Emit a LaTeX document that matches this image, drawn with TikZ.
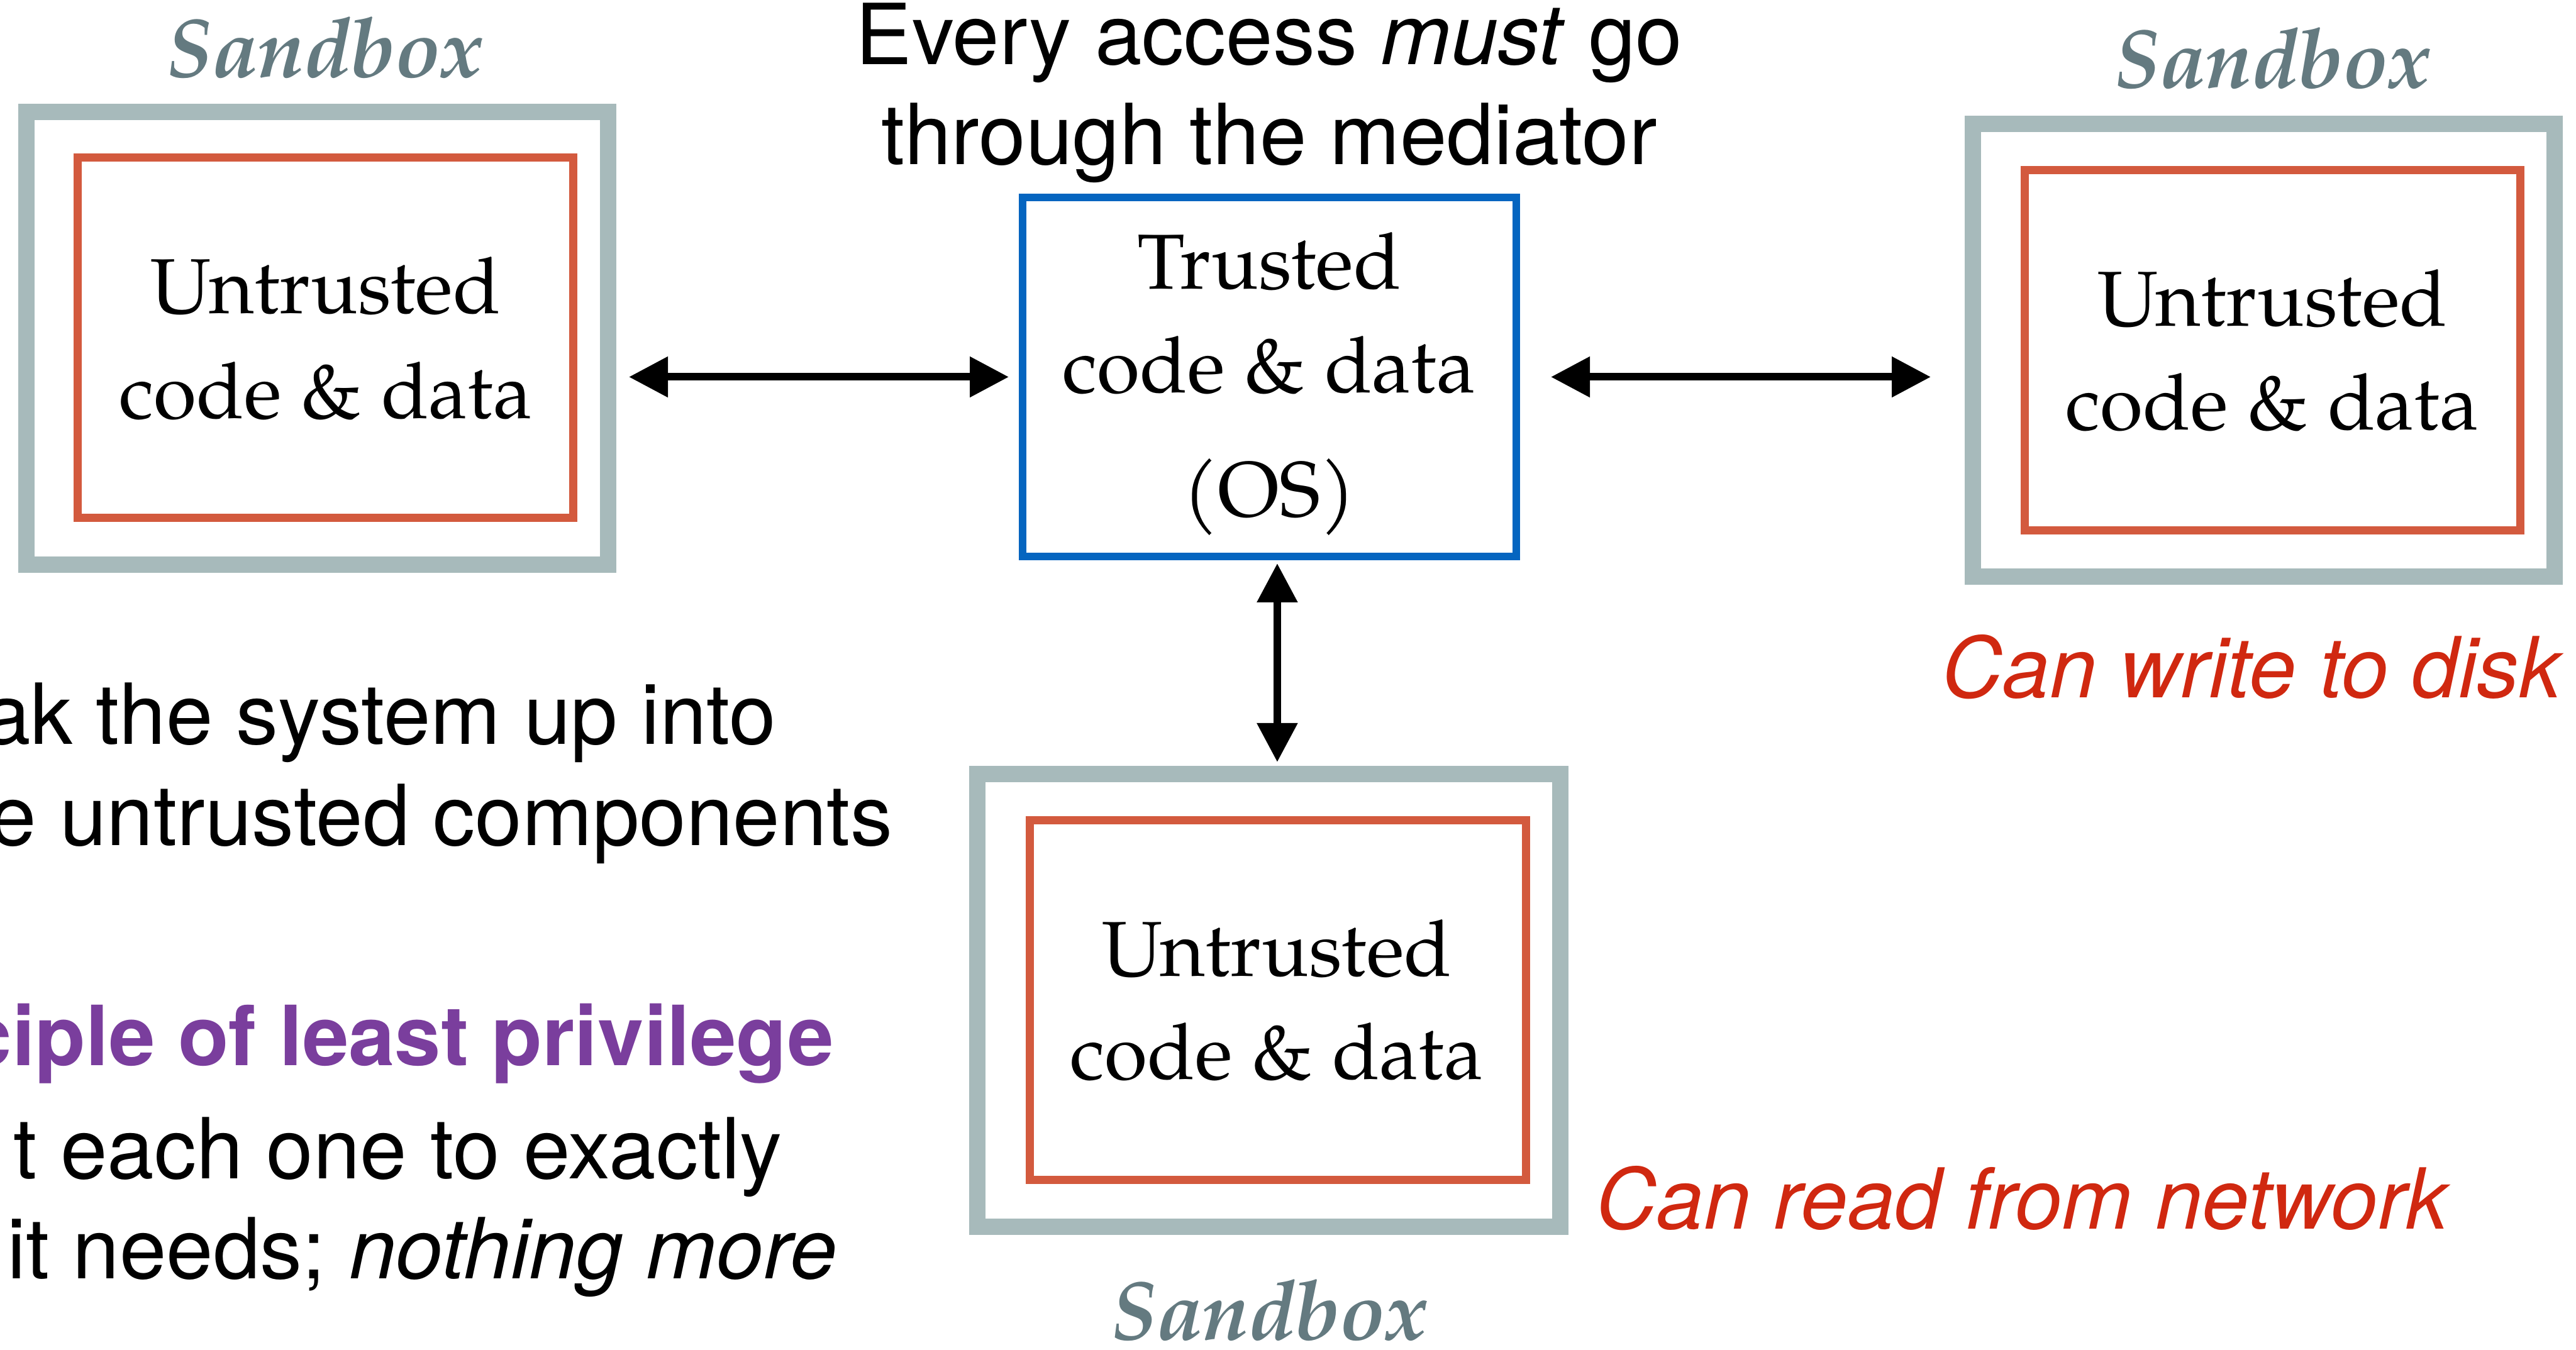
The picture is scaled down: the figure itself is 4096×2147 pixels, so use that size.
\documentclass[tikz,border=0pt]{standalone}
\usepackage{fontspec}
\usetikzlibrary{arrows.meta}
\setmainfont{TeX Gyre Heros}
\newfontfamily\pal{texgyrepagella}[Extension=.otf,UprightFont=*-regular,ItalicFont=*-italic,BoldFont=*-bold,BoldItalicFont=*-bolditalic]
\definecolor{sbgray}{RGB}{167,186,187}
\definecolor{uorange}{RGB}{211,90,62}
\definecolor{tblue}{RGB}{5,101,192}
\definecolor{sbtext}{RGB}{100,122,128}
\definecolor{cred}{RGB}{208,40,16}
\definecolor{cpurple}{RGB}{122,62,157}
\tikzset{
  sbox/.style={draw=sbgray, line width=6.5pt, minimum width=231.25pt, minimum height=180pt, inner sep=0pt},
  ubox/.style={draw=uorange, line width=3.25pt, minimum width=197pt, minimum height=143.25pt, inner sep=0pt},
  tbox/.style={draw=tblue, line width=3pt, minimum width=196.25pt, minimum height=142.75pt, inner sep=0pt},
  serif/.style={font=\pal\fontsize{31}{37}\selectfont, anchor=base, inner sep=0pt},
  sblabel/.style={font=\pal\bfseries\itshape\fontsize{33}{40}\selectfont, text=sbtext, anchor=base, inner sep=0pt},
  sans/.style={font=\fontsize{33.5}{40}\selectfont, inner sep=0pt},
  note/.style={sans, text=cred, anchor=base west, font=\fontsize{33.5}{40}\selectfont\itshape},
  arr/.style={{Triangle[length=15.5pt,width=15.5pt]}-{Triangle[length=15.5pt,width=15.5pt]}, line width=3pt}
}
\begin{document}
\begin{tikzpicture}[x=0.25pt, y=-0.25pt]
\useasboundingbox (0,0) rectangle (4096,2147);
% title
\node[sans, anchor=base] (title1) at (2018,103) {Every access \textit{must} go};
\node[sans, anchor=base] (title2) at (2018,262) {through the mediator};
% left sandbox
\node[sbox] (L) at (504.5,538) {};
\node[ubox] (Lu) at (517.5,537) {};
\node[sblabel] (Lsb) at (516,123) {Sandbox};
\node[serif] (Lt1) at (518,499) {Untrusted};
\node[serif] (Lt2) at (518,666) {code \& data};
% right sandbox
\node[sbox] (R) at (3599.5,557) {};
\node[ubox] (Ru) at (3613,557) {};
\node[sblabel] (Rsb) at (3613,140) {Sandbox};
\node[serif] (Rt1) at (3613,519) {Untrusted};
\node[serif] (Rt2) at (3613,684) {code \& data};
\node[note] (Rn) at (3087,1110) {Can write to disk};
% bottom sandbox
\node[sbox, minimum width=231.75pt] (B) at (2017.5,1591) {};
\node[ubox, minimum width=197.25pt, minimum height=143pt] (Bu) at (2032,1590.5) {};
\node[sblabel] (Bsb) at (2018,2130) {Sandbox};
\node[serif] (Bt1) at (2030,1552) {Untrusted};
\node[serif] (Bt2) at (2030,1716) {code \& data};
\node[note] (Bn) at (2537,1954) {Can read from network};
% trusted
\node[tbox] (T) at (2018.5,599.5) {};
\node[serif] (Tt1) at (2018,460) {Trusted};
\node[serif] (Tt2) at (2018,625) {code \& data};
\node[serif] (Tt3) at (2018,822) {(OS)};
% arrows
\draw[arr, shorten <=5pt, shorten >=4pt] (T.west -| L.east) -- (T.west);
\draw[arr, shorten <=12.25pt, shorten >=13.5pt] (T.east) -- (T.east -| R.west);
\draw[arr, shorten <=1.25pt, shorten >=1.5pt] ([xshift=3.1pt]T.south) -- ([xshift=3.1pt]T.south |- B.north);
% left text
\node[sans, anchor=base east] (p1) at (1235,1183) {ak the system up into};
\node[sans, anchor=base east] (p2) at (1420,1344) {e untrusted components};
\node[sans, anchor=base east, text=cpurple, font=\fontsize{33}{40}\selectfont\bfseries] (p3) at (1327,1694) {ciple of least privilege};
\node[sans, anchor=base east] (p4) at (1244,1874) {t each one to exactly};
\node[sans, anchor=base east] (p5) at (1332,2033) {it needs; \textit{nothing more}};
\end{tikzpicture}
\end{document}
